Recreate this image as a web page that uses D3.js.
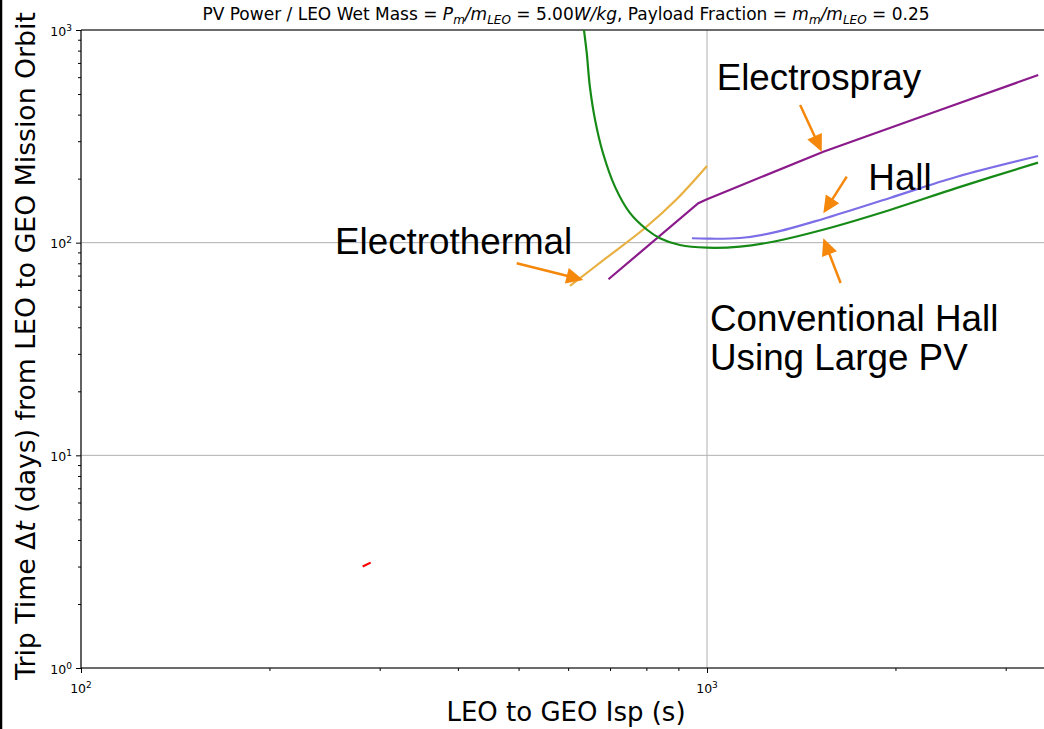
<!DOCTYPE html>
<html><head><meta charset="utf-8">
<script src="https://cdn.jsdelivr.net/npm/d3@7"></script>
<style>body{margin:0;background:#fff} svg{display:block}</style>
</head><body><svg id="c" width="1044" height="729"></svg>
<script>
// ---- data (Isp in s, trip time in days) ----
const convHallIsp = [630, 636, 642.5, 650, 662.5, 682, 713, 753, 802, 841, 905, 1000, 1129, 1275, 1532, 1960, 2508, 3379];
const convHallT   = [1250, 1000, 780, 540, 378, 264, 183, 138, 115, 105, 97.5, 94.7, 95.8, 101, 115, 142.5, 181, 238];
const hallIsp = [946, 1000, 1129, 1275, 1532, 1960, 2508, 3379];
const hallT   = [104.9, 104.4, 105.2, 111.4, 129.3, 162.3, 204.3, 255.6];
const esprayIsp = [696, 968.5, 1000, 1129, 1534, 2357, 3382];
const esprayT   = [67.3, 153.2, 160, 185.3, 267.8, 420.6, 614.4];
const ethermIsp = [604, 692, 796, 895, 1000];
const ethermT   = [62.6, 85.2, 117.2, 160.5, 229.4];
const otherIsp = [281.8, 290.2];
const otherT   = [3.0, 3.13];

const xMajor = [100, 1000];
const xMinor = [200,300,400,500,600,700,800,900,2000,3000];
const yMajor = [1, 10, 100, 1000];
const yMinor = [];
[1,10,100].forEach(d => { for (let k=2;k<10;k++) yMinor.push(d*k); });

// annotations, anchored in data units
const labels = [
  {text:"Electrospray", isp:1036, t:522},
  {text:"Hall", isp:1810, t:177},
  {text:"Electrothermal", isp:254.5, t:88.2},
  {text:"Conventional Hall", isp:1011, t:38.5},
  {text:"Using Large PV", isp:1011, t:25.2}
];
const arrows = [
  {from:[1408.6, 444], to:[1525, 267.8]},
  {from:[1672, 204.3], to:[1534, 137.5]},
  {from:[1634.6, 64.6], to:[1534, 104.9]},
  {from:[496.6, 80.0], to:[634.5, 66.8]}
];

const svg = d3.select("#c");
const L = 81, R = 1051, T = 30, B = 668;
const x = d3.scaleLog().domain([100, 3544]).range([L, R]);
const y = d3.scaleLog().domain([1, 1000]).range([B, T]);

// left image border
svg.append("line").attr("x1",1).attr("x2",1).attr("y1",0).attr("y2",729)
  .attr("stroke","#000").attr("stroke-width",2.5);

svg.append("defs").append("clipPath").attr("id","clip")
  .append("rect").attr("x",L).attr("y",T).attr("width",R-L).attr("height",B-T);

// grid
const grid = svg.append("g").attr("stroke","#b0b0b0").attr("stroke-width",1);
xMajor.forEach(v => grid.append("line").attr("x1",x(v)).attr("x2",x(v)).attr("y1",T).attr("y2",B));
yMajor.forEach(v => grid.append("line").attr("x1",L).attr("x2",R).attr("y1",y(v)).attr("y2",y(v)));

// axes ticks
const fontTick = "DejaVu Sans";
const xAxis = svg.append("g").attr("transform",`translate(0,${B})`)
  .call(d3.axisBottom(x).tickValues(xMajor.concat(xMinor)).tickFormat("").tickSizeOuter(0));
xAxis.select(".domain").remove();
xAxis.selectAll(".tick line").attr("y2", d => xMajor.includes(d) ? 5 : 3).attr("stroke","#000");
const yAxis = svg.append("g").attr("transform",`translate(${L},0)`)
  .call(d3.axisLeft(y).tickValues(yMajor.concat(yMinor)).tickFormat("").tickSizeOuter(0));
yAxis.select(".domain").remove();
yAxis.selectAll(".tick line").attr("x2", d => yMajor.includes(d) ? -5 : -3).attr("stroke","#000");

// spines
const sp = svg.append("g").attr("stroke","#000").attr("stroke-width",1.1);
sp.append("line").attr("x1",L).attr("x2",L).attr("y1",T).attr("y2",B);
sp.append("line").attr("x1",L).attr("x2",R).attr("y1",B).attr("y2",B);
sp.append("line").attr("x1",L).attr("x2",R).attr("y1",T).attr("y2",T);

function powLabel(g, base, exp, px, py, anchor) {
  const t = g.append("text").attr("x",px).attr("y",py).attr("text-anchor",anchor)
    .attr("font-family",fontTick).attr("font-size",12.5).attr("fill","#000");
  t.append("tspan").text(base);
  t.append("tspan").attr("baseline-shift","5.5").attr("font-size",9).text(exp);
}
xMajor.forEach(v => powLabel(svg, "10", String(Math.round(Math.log10(v))), x(v), B+25, "middle"));
yMajor.forEach(v => powLabel(svg, "10", String(Math.round(Math.log10(v))), L-9, y(v)+5.5, "end"));

// series
const smooth = d3.line().curve(d3.curveCatmullRom.alpha(0.5)).x(d => x(d[0])).y(d => y(d[1]));
const straight = d3.line().x(d => x(d[0])).y(d => y(d[1]));
const plot = svg.append("g").attr("clip-path","url(#clip)").attr("fill","none").attr("stroke-width",2.2);
function series(xs, ys, color, gen) {
  plot.append("path").datum(xs.map((v,i)=>[v, ys[i]])).attr("d", gen).attr("stroke", color);
}
series(ethermIsp, ethermT, "#e8b040", smooth);
series(esprayIsp, esprayT, "#8b1a8b", straight);
series(hallIsp, hallT, "#7b6ee6", smooth);
series(convHallIsp, convHallT, "#168a16", smooth);
series(otherIsp, otherT, "#ff0000", straight);

// title
const title = svg.append("text").attr("x",(L+R)/2).attr("y",20).attr("text-anchor","middle")
  .attr("font-family","DejaVu Sans").attr("font-size",17).attr("fill","#000");
function it(txt){ title.append("tspan").attr("font-style","italic").text(txt); }
function sub(txt){ title.append("tspan").attr("font-style","italic").attr("font-size",12).attr("baseline-shift","-3.5").text(txt); }
function rm(txt){ title.append("tspan").text(txt); }
rm("PV Power / LEO Wet Mass = "); it("P"); sub("m"); it("/m"); sub("LEO");
rm(" = 5.00"); it("W/kg"); rm(", Payload Fraction = "); it("m"); sub("m"); it("/m"); sub("LEO"); rm(" = 0.25");

// axis labels
svg.append("text").attr("x",(L+R)/2).attr("y",721).attr("text-anchor","middle")
  .attr("font-family","DejaVu Sans").attr("font-size",26).attr("fill","#000").text("LEO to GEO Isp (s)");
const yl = svg.append("text").attr("transform",`translate(35,${(T+B)/2 - 3}) rotate(-90)`).attr("text-anchor","middle")
  .attr("font-family","DejaVu Sans").attr("font-size",26.7).attr("fill","#000");
yl.append("tspan").text("Trip Time Δ");
yl.append("tspan").attr("font-style","italic").text("t");
yl.append("tspan").text(" (days) from LEO to GEO Mission Orbit");

// annotations
const orange = "#f5870a";
labels.forEach(l => svg.append("text").attr("x",x(l.isp)).attr("y",y(l.t))
  .attr("font-family","Liberation Sans, Arial").attr("font-size",36.8).attr("fill","#000").text(l.text));
arrows.forEach(a => {
  const x0 = x(a.from[0]), y0 = y(a.from[1]), x1 = x(a.to[0]), y1 = y(a.to[1]);
  const dx = x1-x0, dy = y1-y0, len = Math.hypot(dx,dy), ux = dx/len, uy = dy/len;
  const hl = 17, hw = 8;
  const bx = x1 - ux*hl, by = y1 - uy*hl;
  svg.append("line").attr("x1",x0).attr("y1",y0).attr("x2",bx+ux*2).attr("y2",by+uy*2)
    .attr("stroke",orange).attr("stroke-width",2.5);
  svg.append("polygon").attr("fill",orange)
    .attr("points",[[x1,y1],[bx-uy*hw,by+ux*hw],[bx+uy*hw,by-ux*hw]].map(p=>p.join(",")).join(" "));
});
</script>
</body></html>
